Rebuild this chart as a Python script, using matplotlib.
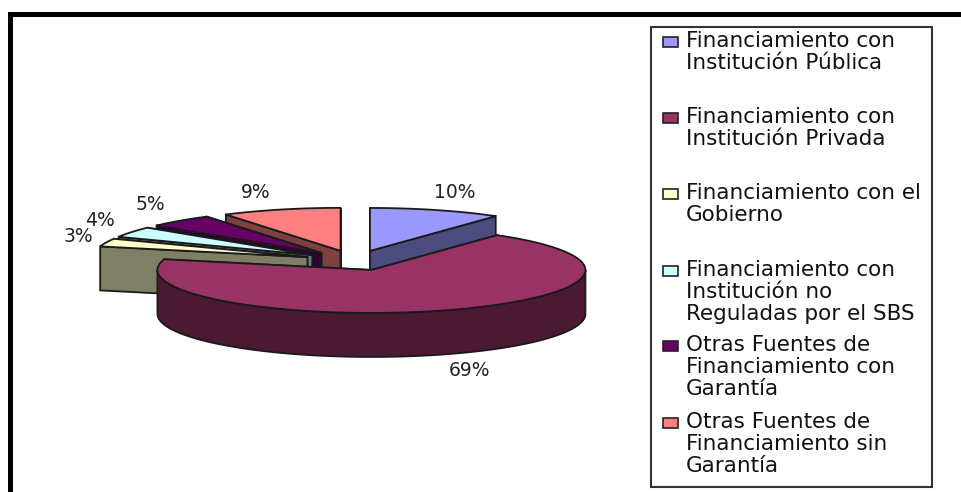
import numpy as np
import matplotlib
matplotlib.use("Agg")
import matplotlib.pyplot as plt
from matplotlib.patches import Polygon, Rectangle

labels = ["Financiamiento con\nInstitución Pública",
          "Financiamiento con\nInstitución Privada",
          "Financiamiento con el\nGobierno",
          "Financiamiento con\nInstitución no\nReguladas por el SBS",
          "Otras Fuentes de\nFinanciamiento con\nGarantía",
          "Otras Fuentes de\nFinanciamiento sin\nGarantía"]
values = [10, 69, 3, 4, 5, 9]
colors = ["#9999FF", "#993366", "#FFFFCC", "#CCFFFF", "#660066", "#FF8080"]
sides = ["#4C4C7F", "#4C1933", "#7F7F66", "#667F7F", "#330033", "#7F4040"]

# pie geometry, in pixels
cx, cy = 354.5, 260.5
rx, ry = 214, 43
depth = 44
explode = 50
edge = "#1a1a1a"

fig = plt.figure(figsize=(9.61, 4.92), dpi=100)
ax = fig.add_axes([0, 0, 1, 1])
ax.set_xlim(0, 961)
ax.set_ylim(492, 0)
ax.axis("off")

# black frame, open to the right and the bottom
ax.add_patch(Rectangle((8, 12), 953, 5, color="black", lw=0))
ax.add_patch(Rectangle((8, 12), 5, 480, color="black", lw=0))


def rim(ox, oy, t1, t2):
    t = np.radians(np.linspace(t1, t2, 80))
    return np.column_stack([ox + rx * np.sin(t), oy - ry * np.cos(t)])


def draw_slice(i, t1, t2):
    mid = np.radians((t1 + t2) / 2)
    ox = cx + explode * np.sin(mid)
    oy = cy - explode * ry / rx * np.cos(mid)
    arc = rim(ox, oy, t1, t2)
    down = np.array([0, depth])
    # radial walls, the one further back first
    walls = [arc[0], arc[-1]]
    walls.sort(key=lambda p: p[1])
    for p in walls:
        apex = np.array([ox, oy])
        ax.add_patch(Polygon([apex, p, p + down, apex + down], closed=True,
                             fc=sides[i], ec=edge, lw=1.3))
    # outer wall, only the front half shows
    a, b = max(t1, 90), min(t2, 270)
    if a < b:
        front = rim(ox, oy, a, b)
        ax.add_patch(Polygon(np.vstack([front, front[::-1] + down]), closed=True,
                             fc=sides[i], ec=edge, lw=1.3))
    ax.add_patch(Polygon(np.vstack([[ox, oy], arc]), closed=True,
                         fc=colors[i], ec=edge, lw=1.3))


angles = np.concatenate([[0], np.cumsum(values) * 3.6])
for i in [5, 4, 3, 2, 0, 1]:
    draw_slice(i, angles[i], angles[i + 1])

# percent labels
label_x = [455, 469, 78, 100, 150, 256]
label_y = [192, 370, 237, 221, 205, 192]
for v, x, y in zip(values, label_x, label_y):
    ax.text(x, y, f"{v}%", ha="center", va="center", fontsize=13.5,
            family="DejaVu Sans", color="#222222")

# legend box
ax.add_patch(Rectangle((651, 27), 281, 460, fc="white", ec="#333333", lw=1.5))
legend_y = [41, 117, 193, 270, 345, 422]
for lab, col, y in zip(labels, colors, legend_y):
    ax.add_patch(Rectangle((663, y - 4), 15, 10, fc=col, ec="#222222", lw=1.2))
    ax.text(686, y - 10, lab, ha="left", va="top", fontsize=15.5,
            family="DejaVu Sans", color="#111111", linespacing=1.14)

fig.savefig("out.png", dpi=100)
